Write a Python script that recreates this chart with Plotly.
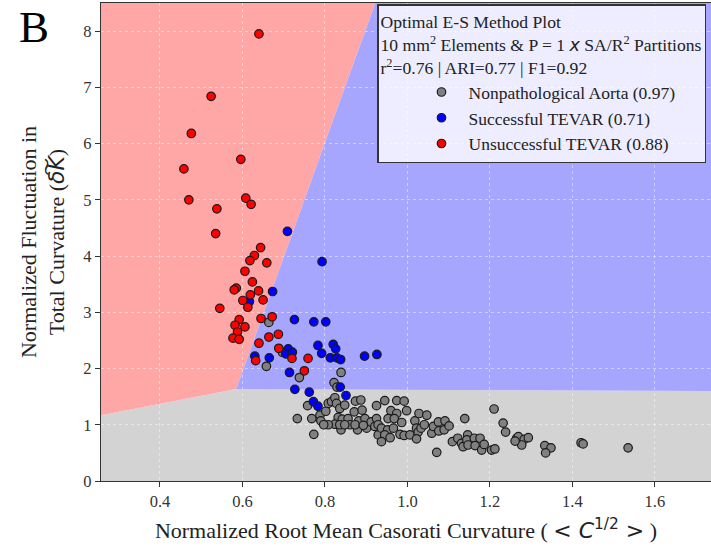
import plotly.graph_objects as go

# ---------------- data ----------------
x_range = [0.257, 1.736]
y_range = [0.0, 8.5]
x_ticks = [0.4, 0.6, 0.8, 1.0, 1.2, 1.4, 1.6]
y_ticks = [0, 1, 2, 3, 4, 5, 6, 7, 8]

# decision-region boundaries
low_bound_x = [0.257, 0.585, 1.736]
low_bound_y = [1.17, 1.635, 1.60]
rb_bound_x = [0.585, 0.922]
rb_bound_y = [1.635, 8.5]

gray_x = [0.664, 0.697, 0.658, 0.738, 0.839, 0.822, 0.829,
          0.733, 0.758, 0.768, 0.773, 0.788, 0.790, 0.802, 0.808, 0.816, 0.824, 0.828, 0.832,
          0.836, 0.842, 0.839, 0.848, 0.856, 0.861, 0.871, 0.874, 0.882, 0.887, 0.890, 0.879,
          0.897, 0.901, 0.912, 0.921, 0.925, 0.925, 0.929, 0.824, 0.808,
          0.797, 0.836, 0.848, 0.873, 0.893,
          0.945, 0.974, 0.992, 0.998, 0.960, 0.974, 0.953, 0.968, 0.986, 0.929, 0.937, 0.952,
          0.966, 0.945, 0.958, 0.937, 0.982, 0.992, 1.006, 1.018, 1.028, 1.047, 1.022, 1.026,
          1.022, 1.033, 1.041, 1.059, 1.063, 1.075, 1.076, 1.091, 1.089, 1.101, 1.139, 1.109,
          1.122, 1.131, 1.135, 1.146, 1.144, 1.071,
          1.210, 1.232, 1.238, 1.162, 1.176, 1.147, 1.164, 1.180, 1.186, 1.204, 1.212, 1.265,
          1.269, 1.283, 1.293, 1.277, 1.261, 1.333, 1.348, 1.335,
          1.421, 1.426, 1.535]
gray_y = [2.82, 2.29, 2.04, 1.84, 1.93, 1.75, 1.67,
          1.11, 1.34, 1.11, 0.83, 1.17, 1.07, 1.24, 1.38, 1.41, 1.48, 1.38, 1.13,
          1.29, 1.10, 0.91, 1.35, 1.11, 1.00, 1.23, 1.42, 1.07, 1.44, 1.26, 0.91,
          1.11, 0.94, 1.05, 0.97, 1.34, 1.11, 0.82, 1.01, 1.00,
          1.00, 1.00, 1.00, 1.00, 0.99,
          1.43, 1.43, 1.42, 1.25, 1.25, 1.20, 1.11, 1.11, 1.04, 1.00, 0.94, 0.91,
          0.94, 0.82, 0.77, 0.70, 0.83, 0.81, 0.82, 1.07, 1.20, 1.17, 0.94, 0.87,
          0.75, 0.94, 1.00, 0.85, 0.97, 1.05, 0.89, 1.07, 0.91, 0.98, 1.11, 0.70,
          0.76, 0.67, 0.61, 0.82, 0.73, 0.51,
          1.28, 1.03, 0.87, 0.76, 0.76, 0.64, 0.63, 0.55, 0.65, 0.55, 0.57, 0.76,
          0.79, 0.74, 0.77, 0.64, 0.71, 0.63, 0.59, 0.50,
          0.68, 0.66, 0.59]

blue_x = [0.709, 0.793, 0.673, 0.617, 0.726, 0.773, 0.802, 0.783, 0.820, 0.826, 0.792, 0.813,
          0.829, 0.838, 0.896, 0.926, 0.630, 0.665, 0.711, 0.705, 0.721, 0.714, 0.727, 0.762,
          0.837, 0.851, 0.772, 0.783]
blue_y = [4.44, 3.90, 3.37, 3.19, 2.87, 2.83, 2.83, 2.41, 2.43, 2.35, 2.27, 2.19,
          2.19, 2.16, 2.22, 2.25, 2.22, 2.19, 2.35, 2.26, 2.29, 1.93, 1.63, 1.58,
          1.67, 1.52, 1.41, 1.33]

red_x = [0.640, 0.524, 0.476, 0.596, 0.458, 0.470, 0.608, 0.621, 0.538, 0.535,
         0.644, 0.629, 0.618, 0.659, 0.606, 0.624, 0.585, 0.580, 0.639, 0.619,
         0.601, 0.650, 0.613, 0.545, 0.592, 0.645, 0.672, 0.582, 0.606, 0.588,
         0.577, 0.592, 0.664, 0.687, 0.640, 0.688, 0.720, 0.759, 0.750, 0.632]
red_y = [7.95, 6.84, 6.18, 5.72, 5.55, 5.00, 5.03, 4.92, 4.84, 4.40,
         4.15, 4.01, 3.92, 3.88, 3.73, 3.54, 3.43, 3.40, 3.38, 3.31,
         3.21, 3.22, 3.09, 3.07, 2.87, 2.89, 2.92, 2.77, 2.74, 2.65,
         2.54, 2.52, 2.56, 2.61, 2.45, 2.36, 2.18, 2.18, 1.96, 2.14]

series_names = ["Nonpathological Aorta (0.97)", "Successful TEVAR (0.71)", "Unsuccessful TEVAR (0.88)"]
legend_title = ("Optimal E-S Method Plot<br>10 mm<sup>2</sup> Elements &amp; P = 1 "
                "<span style='font-family:DejaVu Sans'><i>x</i></span> SA/R<sup>2</sup> Partitions<br>"
                "r<sup>2</sup>=0.76 | ARI=0.77 | F1=0.92")

# ---------------- figure ----------------
W, H = 711, 551
ML, MR, MT, MB = 101, 0, 3, 70
PW, PH = W - ML - MR, H - MT - MB

SERIF = "Liberation Serif"
AXC = "#333333"

def poly(xs, ys):
    return "M " + " L ".join(f"{x},{y}" for x, y in zip(xs, ys)) + " Z"

x0, x1 = x_range
y0, y1 = y_range
gray_path = poly([x0, x0] + low_bound_x[1:-1] + [x1, x1],
                 [y0, low_bound_y[0]] + low_bound_y[1:-1] + [low_bound_y[-1], y0])
red_path = poly([low_bound_x[0]] + rb_bound_x + [x0],
                [low_bound_y[0]] + rb_bound_y + [y1])
blue_path = poly([rb_bound_x[0], low_bound_x[-1], x1, rb_bound_x[1]],
                 [rb_bound_y[0], low_bound_y[-1], y1, rb_bound_y[1]])

fig = go.Figure()
for xs, ys, col, name in [(gray_x, gray_y, "#808080", series_names[0]),
                          (blue_x, blue_y, "#0000ff", series_names[1]),
                          (red_x, red_y, "#ff0000", series_names[2])]:
    fig.add_trace(go.Scatter(x=xs, y=ys, mode="markers", name=name,
                             marker=dict(color=col, size=8.5,
                                         line=dict(color="#1a1a1a", width=1.2))))

shapes = []
for path, col in [(gray_path, "rgb(211,211,211)"), (red_path, "rgb(255,166,166)"),
                  (blue_path, "rgb(166,166,255)")]:
    shapes.append(dict(type="path", path=path, xref="x", yref="y", layer="below",
                       fillcolor=col, line=dict(width=0)))

fig.update_layout(
    width=W, height=H, margin=dict(l=ML, r=MR, t=MT, b=MB, autoexpand=False),
    paper_bgcolor="white", plot_bgcolor="white",
    shapes=shapes,
    font=dict(family=SERIF, size=16, color="#222222"),
    xaxis=dict(range=x_range, tickvals=x_ticks, ticktext=[f"{v:.1f}" for v in x_ticks],
               automargin=False,
               showline=True, linecolor=AXC, linewidth=1.2, mirror=True,
               ticks="outside", ticklen=5, tickcolor=AXC, tickfont=dict(size=16.5, family=SERIF, color="#333"),
               showgrid=True, gridcolor="rgba(255,255,255,0.45)", griddash="dot", gridwidth=1,
               zeroline=False,
               title=dict(text="Normalized Root Mean Casorati Curvature ( "
                               "<span style='font-family:DejaVu Sans'><i>&lt; C</i><sup>1/2</sup> &gt;</span> )",
                          font=dict(size=22, family=SERIF, color="#222"), standoff=12)),
    yaxis=dict(range=y_range, tickvals=y_ticks, automargin=False,
               showline=True, linecolor=AXC, linewidth=1.2, mirror=True,
               ticks="outside", ticklen=5, tickcolor=AXC, tickfont=dict(size=16.5, family=SERIF, color="#333"),
               showgrid=True, gridcolor="rgba(255,255,255,0.45)", griddash="dot", gridwidth=1,
               zeroline=False,
               title=dict(text="Normalized Fluctuation in<br>Total Curvature "
                               "(<span style='font-family:DejaVu Sans'><i>\u03b4\u0360K</i></span>)",
                          font=dict(size=22, family=SERIF, color="#222"), standoff=12)),
    legend=dict(x=(377 - ML) / PW, y=(H - MB - 4) / PH, xanchor="left", yanchor="top",
                bgcolor="rgba(255,255,255,0.8)", bordercolor="#333", borderwidth=1.5,
                font=dict(size=17.5, family=SERIF, color="#222"),
                title=dict(text=legend_title, font=dict(size=17.6, family=SERIF, color="#222")),
                indentation=36, itemwidth=44, tracegroupgap=0),
    annotations=[dict(text="B", xref="paper", yref="paper",
                      x=(17 - ML) / PW, y=(H - MB - 27) / PH, xanchor="left", yanchor="middle",
                      showarrow=False, font=dict(size=45, family=SERIF, color="black"))],
)

fig.write_html("out.html", config={"displayModeBar": False},
               post_script="document.body.style.margin='0';document.body.style.overflow='hidden';")
